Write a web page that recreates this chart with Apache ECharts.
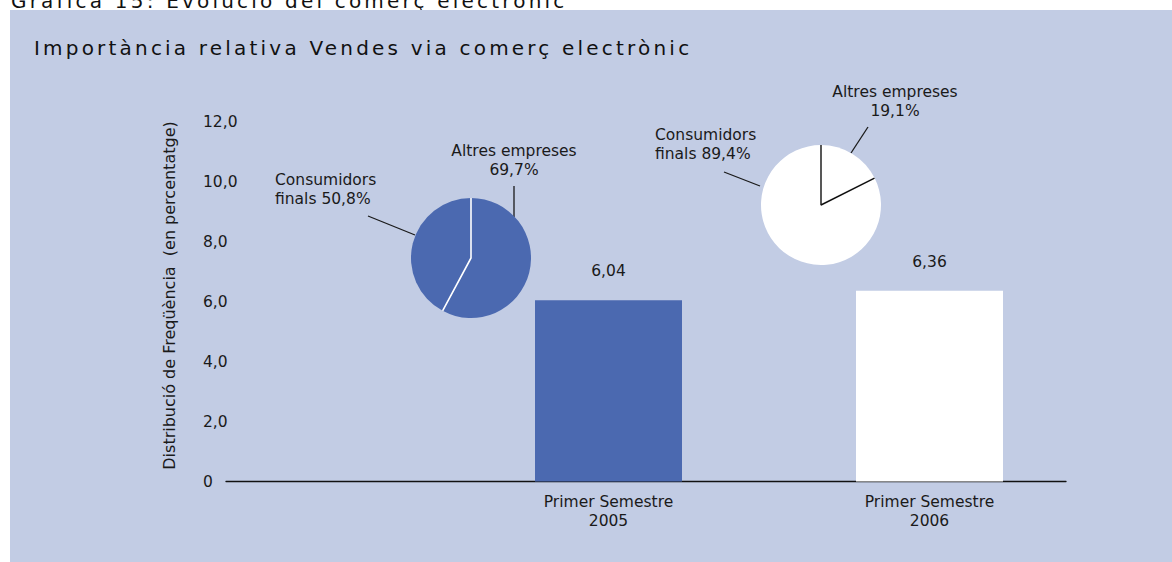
<!DOCTYPE html>
<html>
<head>
<meta charset="utf-8">
<script src="https://cdn.jsdelivr.net/npm/echarts@6/dist/echarts.min.js"></script>
<style>
html, body { margin: 0; padding: 0; background: #ffffff; }
#c { width: 1172px; height: 562px; }
</style>
</head>
<body>
<div id="c"></div>
<script>
// ---------- data ----------
const chartTitle = 'Gràfica 15: Evolució del comerç electrònic';
const panelTitle = 'Importància relativa Vendes via comerç electrònic';
const yAxisName = 'Distribució de Freqüència  (en percentatge)';
const categories = ['Primer Semestre\n2005', 'Primer Semestre\n2006'];
const barValues = [6.04, 6.36];
const yTicks = [0, 2, 4, 6, 8, 10, 12];
const pieNames = ['Altres empreses', 'Consumidors finals'];
const pie2005 = [69.7, 50.8];
const pie2006 = [19.1, 89.4];

// ---------- style / layout ----------
const BLUE = '#4B69B0', WHITE = '#FFFFFF', PANEL = '#C2CCE4', INK = '#1A1A1A';
const FONT = 'DejaVu Sans';
const LBL = 15.5;
const barColors = [BLUE, WHITE];
const PIE_R = 60;
const pieLayout = [
  { center: [471, 258], fill: BLUE, spoke: '#FFFFFF', spokeWidth: 1.6,
    labels: [
      { x: 514, y: 142, align: 'center', line: [[514, 217], [514, 186]] },
      { x: 275, y: 171, align: 'left',   line: [[415, 235], [368, 216]] }
    ] },
  { center: [821, 205], fill: WHITE, spoke: '#111111', spokeWidth: 1.4,
    labels: [
      { x: 895, y: 83,  align: 'center', line: [[851, 153], [868, 127]] },
      { x: 655, y: 126, align: 'left',   line: [[760, 186], [724, 172]] }
    ] }
];
const pieData = [pie2005, pie2006];

const fmt = (v, d) => v.toFixed(d).replace('.', ',');

const chart = echarts.init(document.getElementById('c'), null, { renderer: 'svg' });

const series = [];
series.push({
  type: 'bar', xAxisIndex: 1, yAxisIndex: 1, barWidth: 147, silent: true,
  data: barValues.map((v, i) => ({ value: v, itemStyle: { color: barColors[i] } })),
  label: { show: true, position: 'top', distance: 21, color: INK, fontFamily: FONT, fontSize: LBL,
           formatter: p => fmt(p.value, 2) },
  z: 2
});

pieLayout.forEach((L, k) => {
  const vals = pieData[k];
  series.push({
    type: 'pie', center: L.center, radius: PIE_R, startAngle: 90, clockwise: true,
    silent: true, avoidLabelOverlap: false,
    itemStyle: { color: L.fill, borderWidth: 0 },
    emphasis: { disabled: true },
    data: vals.map((v, i) => ({ name: pieNames[i], value: v })),
    label: {
      show: true, position: 'outside', color: INK, fontFamily: FONT, fontSize: LBL, lineHeight: 19,
      formatter: p => p.dataIndex === 0
        ? p.name + '\n' + fmt(p.value, 1) + '%'
        : p.name.replace(' ', '\n') + ' ' + fmt(p.value, 1) + '%'
    },
    labelLine: { show: true, smooth: false, length: 8, length2: 8, lineStyle: { color: INK, width: 1.3 } },
    labelLayout: p => {
      const o = L.labels[p.dataIndex];
      const a = o.line[0], b = o.line[1];
      return { x: o.x, y: o.y - 1, align: o.align, verticalAlign: 'top',
               labelLinePoints: [a, [(a[0] + b[0]) / 2, (a[1] + b[1]) / 2], b] };
    },
    z: 3
  });
  // slice boundaries (spokes), from the slice values on a matching polar system
  series.push({
    type: 'line', coordinateSystem: 'polar', polarIndex: k, clip: false, silent: true,
    symbol: 'none', data: [[1.15, 0], [0, 0], [1.1, vals[0]]],
    lineStyle: { color: L.spoke, width: L.spokeWidth },
    z: 4
  });
});

const option = {
  backgroundColor: '#FFFFFF',
  animation: false,
  textStyle: { fontFamily: FONT },
  graphic: [
    { type: 'rect', shape: { x: 10, y: 10, width: 1162, height: 552 }, style: { fill: PANEL }, z: -10, silent: true },
    { type: 'text', x: 11, y: -10.5, style: { text: chartTitle, fontFamily: FONT, fontSize: 20, lineHeight: 22, fill: '#111111', verticalAlign: 'top' }, z: -20 },
    { type: 'text', x: 34, y: 37, style: { text: panelTitle, fontFamily: FONT, fontSize: 20, lineHeight: 22, fill: '#111111', verticalAlign: 'top' }, z: 1 }
  ],
  grid: [
    { left: 226, right: 106, top: 121.5, bottom: 80.5 },
    { left: 448, right: 82, top: 121.5, bottom: 80.5 }
  ],
  polar: pieLayout.map(L => ({ center: L.center, radius: PIE_R })),
  angleAxis: pieData.map((vals, k) => ({
    polarIndex: k, type: 'value', min: 0, max: vals.reduce((s, v) => s + v, 0),
    startAngle: 90, clockwise: true, show: false
  })),
  radiusAxis: pieData.map((vals, k) => ({ polarIndex: k, type: 'value', min: 0, max: 1, show: false })),
  xAxis: [
    { gridIndex: 0, type: 'value', min: 0, max: 1,
      axisLine: { show: true, onZero: false, lineStyle: { color: '#111111', width: 1.3 } },
      axisTick: { show: false }, axisLabel: { show: false }, splitLine: { show: false } },
    { gridIndex: 1, type: 'category', data: categories,
      axisLine: { show: false }, axisTick: { show: false }, splitLine: { show: false },
      axisLabel: { color: INK, fontFamily: FONT, fontSize: LBL, lineHeight: 19, margin: 11 } }
  ],
  yAxis: [
    { gridIndex: 0, type: 'value', min: yTicks[0], max: yTicks[yTicks.length - 1], interval: yTicks[1] - yTicks[0],
      axisLine: { show: false }, axisTick: { show: false }, splitLine: { show: false },
      axisLabel: { align: 'left', margin: 23, color: INK, fontFamily: FONT, fontSize: LBL,
                   formatter: v => v === 0 ? '0' : fmt(v, 1) },
      name: yAxisName, nameLocation: 'middle', nameGap: 49,
      nameTextStyle: { color: INK, fontFamily: FONT, fontSize: 16, padding: [0, 0, 0, 12] } },
    { gridIndex: 1, type: 'value', min: yTicks[0], max: yTicks[yTicks.length - 1], show: false }
  ],
  series: series
};

chart.setOption(option);

function spaceTitles() {
  document.querySelectorAll('#c svg text').forEach(t => {
    const s = t.textContent;
    if (s === chartTitle || s === panelTitle) t.setAttribute('letter-spacing', '3.2');
  });
}
chart.on('finished', spaceTitles);
spaceTitles();
setTimeout(spaceTitles, 0);
requestAnimationFrame(spaceTitles);
</script>
</body>
</html>
